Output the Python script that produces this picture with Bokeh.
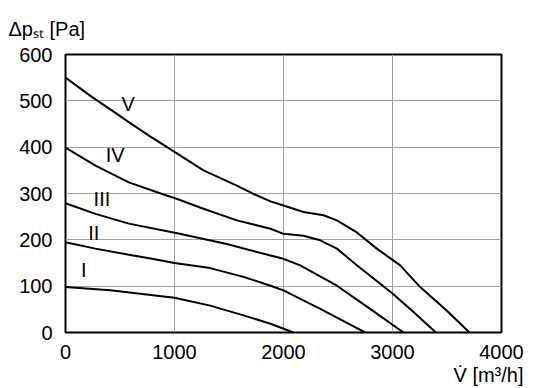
from bokeh.plotting import figure
from bokeh.models import Label, Range1d, FixedTicker, Title
from bokeh.embed import file_html
from bokeh.resources import INLINE

# Curve data (flow m3/h, static pressure Pa)
v_x = [0, 245, 428, 581, 765, 979, 1266, 1572, 1725, 1881, 2000, 2183, 2367, 2490, 2673, 2856, 3071, 3254, 3499, 3706]
v_y = [550, 508, 479, 454, 425, 393, 350, 317, 299, 283, 274, 260, 253, 242, 216, 181, 145, 98, 47, 0]
iv_x = [0, 275, 581, 887, 1025, 1266, 1572, 1881, 2000, 2183, 2337, 2490, 2673, 3000, 3193, 3398]
iv_y = [399, 360, 324, 299, 288, 267, 242, 224, 213, 209, 199, 181, 145, 84, 44, 0]
iii_x = [0, 275, 581, 1025, 1480, 1881, 2000, 2153, 2490, 2795, 3101]
iii_y = [279, 256, 235, 214, 191, 166, 159, 145, 101, 51, 0]
ii_x = [0, 275, 581, 795, 1000, 1327, 1633, 1881, 2000, 2337, 2750]
ii_y = [195, 181, 168, 159, 150, 139, 120, 101, 91, 51, 0]
i_x = [0, 410, 1000, 1327, 1633, 1881, 2092]
i_y = [98, 91, 75, 58, 37, 19, 0]

curve_names = ["V", "IV", "III", "II", "I"]
label_x = [574, 456, 334, 260, 168]
label_y = [494, 384, 289, 214, 134]

x_ticks = [0, 1000, 2000, 3000, 4000]
y_ticks = [0, 100, 200, 300, 400, 500, 600]

y_title = "Δp\u209b\u209c [Pa]"
x_title = "V\u0307 [m\u00b3/h]"

FONT = "Liberation Sans"
W, H = 536, 388

p = figure(width=W, height=H, output_backend="svg", toolbar_location=None,
           x_range=Range1d(0, 4000), y_range=Range1d(0, 600),
           min_border_left=65, min_border_right=35, min_border_top=54, min_border_bottom=56)
p.background_fill_color = "white"
p.border_fill_color = "white"
p.outline_line_color = "black"
p.outline_line_width = 2

for ax in (p.xaxis[0], p.yaxis[0]):
    ax.axis_line_color = None
    ax.major_tick_line_color = None
    ax.minor_tick_line_color = None
    ax.major_label_text_font = FONT
    ax.major_label_text_font_size = "20px"
    ax.major_label_text_color = "black"
p.xaxis[0].ticker = FixedTicker(ticks=x_ticks)
p.yaxis[0].ticker = FixedTicker(ticks=y_ticks)
p.xaxis[0].major_label_standoff = 6
p.yaxis[0].major_label_standoff = 7

p.xgrid[0].ticker = FixedTicker(ticks=x_ticks)
p.ygrid[0].ticker = FixedTicker(ticks=y_ticks)
p.grid.grid_line_color = "#a0a0a0"
p.grid.grid_line_width = 1

for xs, ys in [(v_x, v_y), (iv_x, iv_y), (iii_x, iii_y), (ii_x, ii_y), (i_x, i_y)]:
    p.line(xs, ys, line_color="black", line_width=2, line_join="round")

for name, lx, ly in zip(curve_names, label_x, label_y):
    p.add_layout(Label(x=lx, y=ly, text=name, text_align="center", text_baseline="middle",
                       text_font=FONT, text_font_size="20px", text_color="black"))

# Axis titles as Title annotations (rendered outside the frame)
p.add_layout(Title(text=y_title, align="left", offset=-57, standoff=30,
                   text_font=FONT, text_font_size="20px", text_font_style="normal",
                   text_color="black"), "above")
p.add_layout(Title(text=x_title, align="right", offset=-22, standoff=1,
                   text_font=FONT, text_font_size="20px", text_font_style="normal",
                   text_color="black"), "below")

open("out.html", "w").write(file_html(p, INLINE))
